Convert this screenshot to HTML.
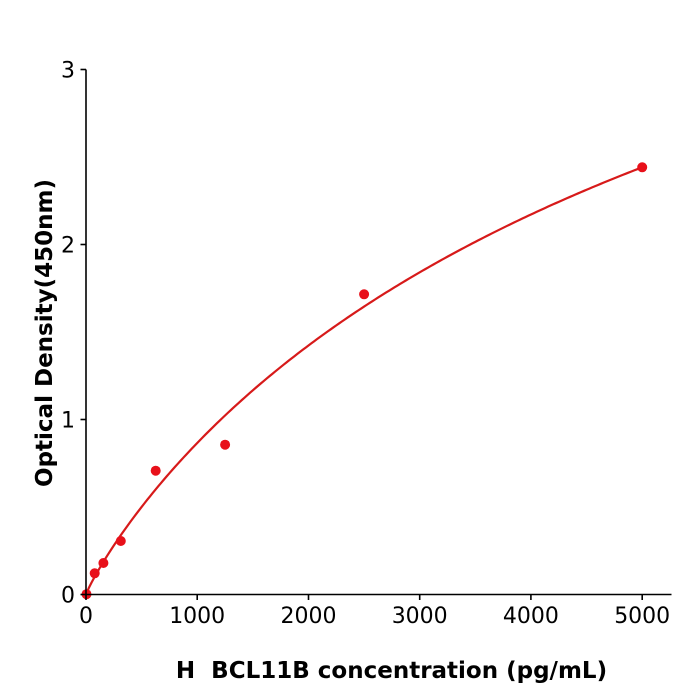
<!DOCTYPE html>
<html>
<head>
<meta charset="utf-8">
<style>
html,body{margin:0;padding:0;background:#fff;}
svg{display:block;}
text{font-family:"DejaVu Sans","Liberation Sans",sans-serif;fill:#000;}
</style>
</head>
<body>
<svg width="700" height="700" viewBox="0 0 700 700" xmlns="http://www.w3.org/2000/svg">
<rect width="700" height="700" fill="#fff"/>
<!-- curve -->
<polyline id="curve" fill="none" stroke="#d71a1a" stroke-width="2.2" stroke-linejoin="round" points="86,594.5 88.78,588.06 91.56,582.53 97.12,572.40 108.25,554.08 119.37,537.29 130.50,521.67 152.74,492.97 174.99,466.87 197.24,442.95 225.05,415.34 252.86,390.28 308.48,345.53 364.10,306.63 419.72,272.33 475.34,241.77 530.96,214.52 586.58,189.81 642.20,167.33"/>
<!-- points -->
<g fill="#e8101a">
<circle cx="86.5" cy="594.2" r="5"/>
<circle cx="94.7" cy="573.3" r="5"/>
<circle cx="103.4" cy="563" r="5"/>
<circle cx="120.8" cy="541" r="5"/>
<circle cx="155.7" cy="470.7" r="5"/>
<circle cx="225.1" cy="444.7" r="5"/>
<circle cx="364.1" cy="294.3" r="5"/>
<circle cx="642.2" cy="167.3" r="5"/>
</g>
<!-- axes -->
<g stroke="#000" stroke-width="1.6" fill="none">
<line x1="86" y1="69.5" x2="86" y2="595.3"/>
<line x1="85.2" y1="594.5" x2="671.5" y2="594.5"/>
<line x1="80.5" y1="594.5" x2="86" y2="594.5"/>
<line x1="80.5" y1="419.5" x2="86" y2="419.5"/>
<line x1="80.5" y1="244.5" x2="86" y2="244.5"/>
<line x1="80.5" y1="69.5" x2="86" y2="69.5"/>
<line x1="86" y1="594.5" x2="86" y2="600"/>
<line x1="197.2" y1="594.5" x2="197.2" y2="600"/>
<line x1="308.5" y1="594.5" x2="308.5" y2="600"/>
<line x1="419.7" y1="594.5" x2="419.7" y2="600"/>
<line x1="530.9" y1="594.5" x2="530.9" y2="600"/>
<line x1="642.2" y1="594.5" x2="642.2" y2="600"/>
</g>
<!-- y tick labels -->
<g font-size="22" text-anchor="end">
<text x="75" y="602.5">0</text>
<text x="75" y="427.5">1</text>
<text x="75" y="252.5">2</text>
<text x="75" y="77.5">3</text>
</g>
<!-- x tick labels -->
<g font-size="22" text-anchor="middle">
<text x="86" y="623">0</text>
<text x="197.2" y="623">1000</text>
<text x="308.5" y="623">2000</text>
<text x="419.7" y="623">3000</text>
<text x="530.9" y="623">4000</text>
<text x="642.2" y="623">5000</text>
</g>
<!-- axis labels -->
<text x="391.5" y="678" font-size="23" font-weight="bold" text-anchor="middle" xml:space="preserve">H  BCL11B concentration (pg/mL)</text>
<text transform="translate(52,333) rotate(-90)" font-size="23" font-weight="bold" text-anchor="middle">Optical Density(450nm)</text>
</svg>
<script>
(function(){
  var pts=[];
  var u=2700,d=5.531,b=0.9;
  for(var i=0;i<=200;i++){
    var x=5000*i/200;
    var xb=x>0?Math.pow(x,b):0;
    var y=d*xb/(u+xb);
    pts.push((86+x*0.11124).toFixed(2)+","+(594.5-y*175).toFixed(2));
  }
  document.getElementById("curve").setAttribute("points",pts.join(" "));
})();
</script>
</body>
</html>
